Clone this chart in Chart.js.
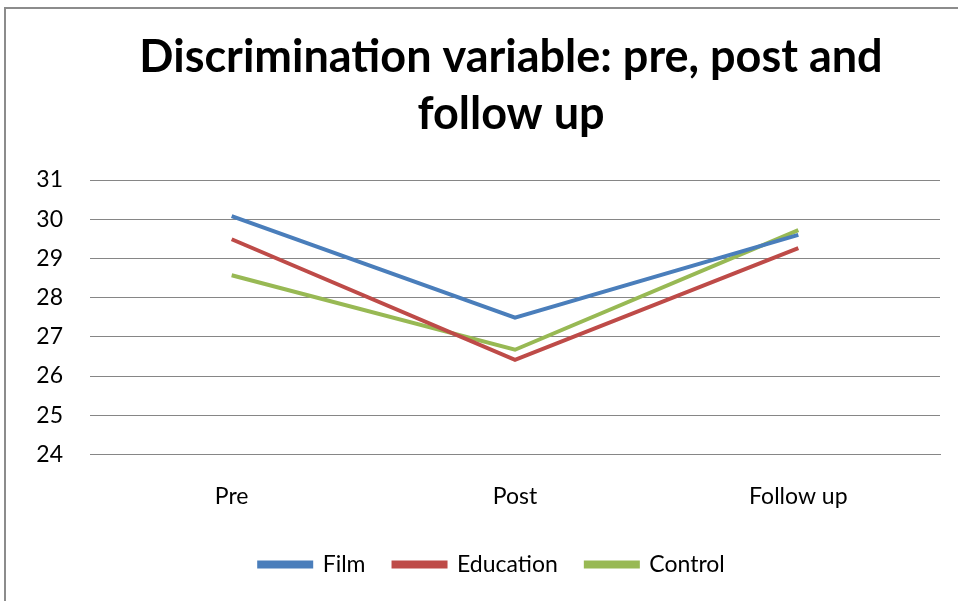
<!DOCTYPE html>
<html><head><meta charset="utf-8">
<script src="https://cdn.jsdelivr.net/npm/chart.js@4/dist/chart.umd.min.js"></script>
<style>
html,body{margin:0;padding:0;background:#fff;overflow:hidden;width:958px;height:601px}
#frame{position:absolute;left:4px;top:7px;width:1200px;height:800px;border-left:2px solid #8c8c8c;border-top:2px solid #8c8c8c}
#wrap{position:absolute;left:0;top:0;width:958px;height:601px}
</style></head>
<body>
<div id="frame"></div>
<div id="wrap"><canvas id="c" width="958" height="601"></canvas></div>
<script>
const categories = ['Pre', 'Post', 'Follow up'];
const seriesNames = ['Film', 'Education', 'Control'];
const film = [30.08, 27.49, 29.6];
const education = [29.49, 26.41, 29.26];
const control = [28.57, 26.67, 29.72];
const yMin = 24, yMax = 31, yStep = 1;
const titleLines = ['Discrimination variable: pre, post and', 'follow up'];

const colors = ['#4A7EBB', '#BE4B48', '#98B954'];
const FONT = 'Lato, "Open Sans", sans-serif';

const shiftPlugin = {
  id: 'shift',
  afterLayout(chart) {
    const t = chart.titleBlock;
    if (t) { t.left += 41; t.right += 41; }
    const l = chart.legend;
    if (l) { l.left += 22; l.right += 22; }
  }
};

new Chart(document.getElementById('c'), {
  type: 'line',
  data: {
    labels: categories,
    datasets: [film, education, control].map((d, i) => ({
      label: seriesNames[i],
      data: d,
      borderColor: colors[i],
      backgroundColor: colors[i],
      borderWidth: 4,
      pointRadius: 0,
      tension: 0
    }))
  },
  options: {
    responsive: false,
    animation: false,
    layout: { padding: { left: 0, right: 18, top: 4, bottom: 15 } },
    plugins: {
      title: {
        display: true,
        text: titleLines,
        color: '#000',
        font: { family: FONT, size: 45, weight: 'bold', lineHeight: 1.267 },
        padding: { top: 25, bottom: 37 }
      },
      legend: {
        position: 'bottom',
        labels: {
          color: '#000',
          font: { family: FONT, size: 23 },
          boxWidth: 52,
          boxHeight: 4,
          padding: 28
        }
      },
      tooltip: { enabled: false }
    },
    scales: {
      x: {
        offset: true,
        afterFit(s) { s.height -= 13; },
        grid: { display: false, drawTicks: false },
        border: { display: true, color: '#868686', width: 1 },
        ticks: { color: '#000', font: { family: FONT, size: 23 }, padding: 28 }
      },
      y: {
        min: yMin, max: yMax,
        afterFit(s) { s.width = 90; },
        grid: { color: '#868686', lineWidth: 1, drawTicks: false },
        border: { display: false },
        ticks: { stepSize: yStep, color: '#000', font: { family: FONT, size: 23 }, padding: 27 }
      }
    }
  },
  plugins: [shiftPlugin]
});
</script>
</body></html>
